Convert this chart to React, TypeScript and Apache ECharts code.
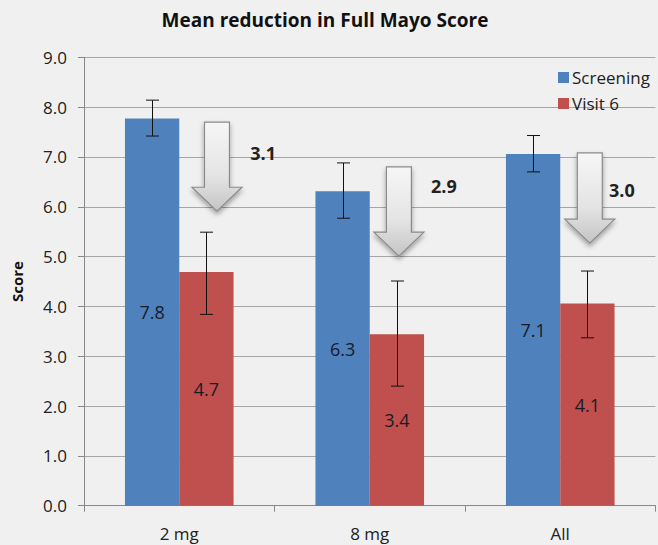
import React, { useEffect, useRef } from "react";
import * as echarts from "echarts";

const categories = ["2 mg", "8 mg", "All"];
const screening = [7.77, 6.31, 7.06];
const visit6 = [4.69, 3.44, 4.06];
const screeningErrLow = [7.42, 5.77, 6.7];
const screeningErrHigh = [8.14, 6.88, 7.43];
const visitErrLow = [3.84, 2.4, 3.37];
const visitErrHigh = [5.49, 4.51, 4.71];
const reductionLabels = ["3.1", "2.9", "3.0"];
const arrowTop = [7.7, 6.8, 7.08];
const arrowTip = [5.91, 5.01, 5.27];
const reductionLabelY = [7.08, 6.42, 6.34];
// horizontal offsets (fraction of category width) of arrow centre and label
const arrowDx = [0.198, 0.153, 0.155];
const labelDx = [0.373, 0.322, 0.256];

const FONT = "'Open Sans', 'Noto Sans', sans-serif";
const BLUE = "#4F81BD";
const RED = "#C0504D";

export default function App() {
  const ref = useRef<HTMLDivElement>(null);
  useEffect(() => {
    document.body.style.margin = "0";
    document.body.style.background = "#F0F0F0";
    const chart = echarts.init(ref.current!, null, { renderer: "svg" });

    const errData = (lo: number[], hi: number[]) =>
      categories.map((_, i) => [i, lo[i], hi[i]]);

    const errSeries = (name: string, lo: number[], hi: number[], side: number) => ({
      type: "custom",
      name: name,
      silent: true,
      z: 5,
      data: errData(lo, hi),
      encode: { x: 0, y: [1, 2] },
      renderItem: (params: any, api: any) => {
        const idx = api.value(0);
        const catW = api.size([1, 0])[0];
        const barW = (catW * (1 - 0.43)) / 2;
        const top = api.coord([idx, api.value(2)]);
        const bot = api.coord([idx, api.value(1)]);
        const x = Math.round(top[0] + side * barW / 2) + 0.5;
        const cap = 6.5;
        const st = { stroke: "#111", lineWidth: 1 };
        return {
          type: "group",
          children: [
            { type: "line", shape: { x1: x, y1: top[1], x2: x, y2: bot[1] }, style: st },
            { type: "line", shape: { x1: x - cap, y1: top[1], x2: x + cap, y2: top[1] }, style: st },
            { type: "line", shape: { x1: x - cap, y1: bot[1], x2: x + cap, y2: bot[1] }, style: st },
          ],
        };
      },
    });

    const arrowData = categories.map((_, i) => [i, arrowTop[i], arrowTip[i], reductionLabelY[i]]);

    const barLabel = {
      show: true,
      position: "inside",
      fontFamily: FONT,
      fontSize: 18,
      color: "#1a1a2a",
      formatter: (p: any) => Number(p.value).toFixed(1),
    };

    const option: any = {
      animation: false,
      backgroundColor: "#F0F0F0",
      textStyle: { fontFamily: FONT },
      title: {
        text: "Mean reduction in Full Mayo Score",
        left: 320,
        textAlign: "center",
        top: 5,
        textStyle: { fontFamily: FONT, fontSize: 19, fontWeight: "bold", color: "#111" },
      },
      legend: {
        orient: "vertical",
        left: 553,
        top: 64,
        itemWidth: 11,
        itemHeight: 11,
        itemGap: 9,
        icon: "rect",
        data: ["Screening", "Visit 6"],
        textStyle: { fontFamily: FONT, fontSize: 17, color: "#222", padding: [0, 0, 0, -2] },
      },
      grid: { left: 84, right: 2.5, top: 57.3, bottom: 39.3, containLabel: false },
      xAxis: {
        type: "category",
        data: categories,
        axisLine: { show: true, lineStyle: { color: "#888", width: 1 } },
        axisTick: { show: true, length: 6, lineStyle: { color: "#888" } },
        axisLabel: { fontFamily: FONT, fontSize: 17, color: "#222", margin: 19 },
      },
      yAxis: {
        type: "value",
        min: 0,
        max: 9,
        interval: 1,
        name: "Score",
        nameLocation: "middle",
        nameRotate: 90,
        nameGap: 60,
        nameTextStyle: { fontFamily: FONT, fontSize: 15, fontWeight: "bold", color: "#111" },
        axisLine: { show: true, lineStyle: { color: "#888", width: 1 } },
        axisTick: { show: true, length: 6, lineStyle: { color: "#888" } },
        axisLabel: {
          fontFamily: FONT,
          fontSize: 17,
          color: "#222",
          margin: 17,
          formatter: (v: number) => v.toFixed(1),
        },
        splitLine: { show: true, lineStyle: { color: "#A6A6A6", width: 1 } },
      },
      series: [
        {
          type: "bar",
          name: "Screening",
          data: screening,
          itemStyle: { color: BLUE },
          barGap: "0%",
          barCategoryGap: "43%",
          label: barLabel,
        },
        {
          type: "bar",
          name: "Visit 6",
          data: visit6,
          itemStyle: { color: RED },
          barGap: "0%",
          barCategoryGap: "43%",
          label: barLabel,
        },
        errSeries("errS", screeningErrLow, screeningErrHigh, -1),
        errSeries("errV", visitErrLow, visitErrHigh, 1),
        {
          type: "custom",
          name: "arrows",
          silent: true,
          z: 10,
          clip: false,
          data: arrowData,
          encode: { x: 0, y: [1, 2] },
          renderItem: (params: any, api: any) => {
            const i = params.dataIndex;
            const idx = api.value(0);
            const catW = api.size([1, 0])[0];
            const c = api.coord([idx, api.value(1)]);
            const tip = api.coord([idx, api.value(2)]);
            const lab = api.coord([idx, api.value(3)]);
            const cx = c[0] + arrowDx[i] * catW;
            const topY = c[1];
            const tipY = tip[1];
            const headH = 24;
            const shaftHalf = 12.5;
            const headHalf = 25;
            const pts = [
              [cx - shaftHalf, topY],
              [cx + shaftHalf, topY],
              [cx + shaftHalf, tipY - headH],
              [cx + headHalf, tipY - headH],
              [cx, tipY],
              [cx - headHalf, tipY - headH],
              [cx - shaftHalf, tipY - headH],
            ];
            return {
              type: "group",
              children: [
                {
                  type: "polygon",
                  shape: { points: pts },
                  style: {
                    fill: new echarts.graphic.LinearGradient(0, 0, 0, 1, [
                      { offset: 0, color: "#F6F6F6" },
                      { offset: 0.6, color: "#E4E4E4" },
                      { offset: 1, color: "#C4C4C4" },
                    ]),
                    stroke: "#8A8A8A",
                    lineWidth: 1.2,
                    shadowBlur: 5,
                    shadowOffsetY: 3,
                    shadowColor: "rgba(0,0,0,0.35)",
                  },
                },
                {
                  type: "text",
                  style: {
                    text: reductionLabels[i],
                    x: c[0] + labelDx[i] * catW,
                    y: lab[1],
                    verticalAlign: "middle",
                    align: "left",
                    fontFamily: FONT,
                    fontSize: 18,
                    fontWeight: "bold",
                    fill: "#222",
                  },
                },
              ],
            };
          },
        },
      ],
    };
    chart.setOption(option);
    return () => chart.dispose();
  }, []);
  return <div ref={ref} style={{ width: 658, height: 545, background: "#F0F0F0" }} />;
}
